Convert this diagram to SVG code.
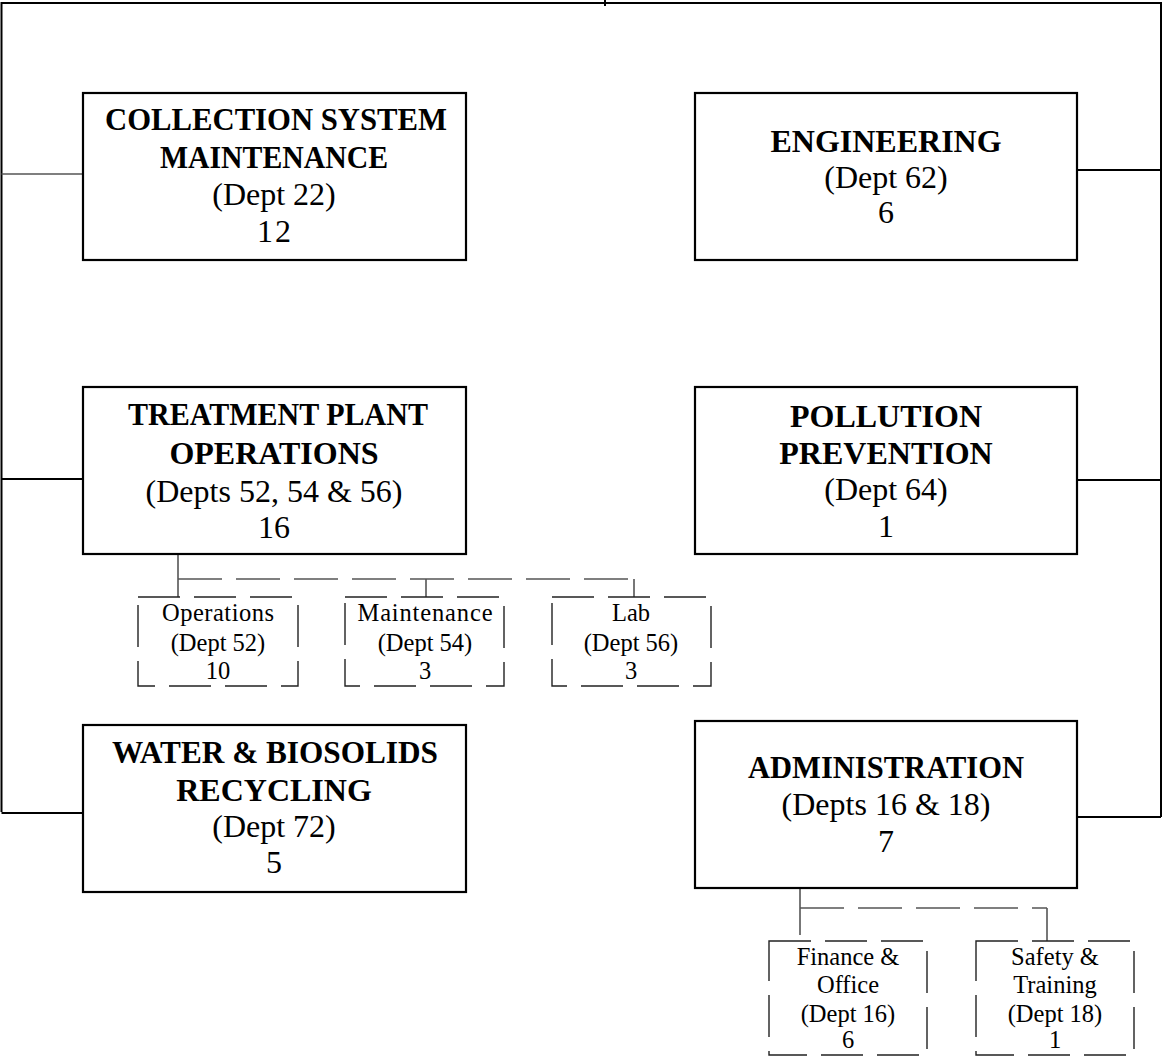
<svg xmlns="http://www.w3.org/2000/svg" width="1163" height="1057" viewBox="0 0 1163 1057">
<style>
.box{fill:#fff;stroke:#000;stroke-width:2.2}
.sub{fill:#fff;stroke:#222;stroke-width:1.4;stroke-dasharray:42 14}
.ln{fill:none;stroke:#000;stroke-width:2}
.thin{fill:none;stroke:#555;stroke-width:1.6}
.dash{fill:none;stroke:#555;stroke-width:1.6;stroke-dasharray:44 14}
text{font-family:'Liberation Serif','Times New Roman',Times,'DejaVu Serif',serif;text-anchor:middle;fill:#000}
.b{font-weight:bold;font-size:32px}
.r{font-size:32px}
.s{font-size:24.5px}
</style>
<g id="connectors">
<path class="ln" d="M1.5,812 V3 H1161 V817"/>
<path class="ln" d="M605,0 V6"/>
<path class="thin" d="M1.5,174 H83"/>
<path class="ln" d="M1.5,479 H83"/>
<path class="ln" d="M1.5,813 H83"/>
<path class="ln" d="M1161,170 H1077"/>
<path class="ln" d="M1161,480 H1077"/>
<path class="ln" d="M1161,817 H1077"/>
<path class="thin" d="M178,554 V597"/>
<path class="dash" d="M178,579 H639"/>
<path class="thin" d="M426,579 V597"/>
<path class="thin" d="M634,579 V597"/>
<path class="thin" d="M800,888 V935"/>
<path class="dash" d="M800,908 H1047"/>
<path class="thin" d="M1047,908 V941"/>
</g>
<g id="collection">
<rect class="box" x="83" y="93" width="383" height="167"/>
<text class="b" x="276" y="130" textLength="342" lengthAdjust="spacingAndGlyphs">COLLECTION SYSTEM</text>
<text class="b" x="274" y="168" textLength="228" lengthAdjust="spacingAndGlyphs">MAINTENANCE</text>
<text class="r" x="274" y="205">(Dept 22)</text>
<text class="r" x="275" y="242" letter-spacing="2">12</text>
</g>
<g id="engineering">
<rect class="box" x="695" y="93" width="382" height="167"/>
<text class="b" x="886" y="152">ENGINEERING</text>
<text class="r" x="886" y="188">(Dept 62)</text>
<text class="r" x="886" y="223">6</text>
</g>
<g id="treatment">
<rect class="box" x="83" y="387" width="383" height="167"/>
<text class="b" x="278" y="425" textLength="300" lengthAdjust="spacingAndGlyphs">TREATMENT PLANT</text>
<text class="b" x="274" y="464">OPERATIONS</text>
<text class="r" x="274" y="502">(Depts 52, 54 &amp; 56)</text>
<text class="r" x="274" y="538">16</text>
</g>
<g id="pollution">
<rect class="box" x="695" y="387" width="382" height="167"/>
<text class="b" x="886" y="427">POLLUTION</text>
<text class="b" x="886" y="464">PREVENTION</text>
<text class="r" x="886" y="500">(Dept 64)</text>
<text class="r" x="886" y="537">1</text>
</g>
<g id="operations">
<rect class="sub" x="138" y="597" width="160" height="89"/>
<text class="s" x="218" y="621" textLength="112">Operations</text>
<text class="s" x="218" y="651">(Dept 52)</text>
<text class="s" x="218" y="679">10</text>
</g>
<g id="maintenance">
<rect class="sub" x="345" y="597" width="159" height="89"/>
<text class="s" x="425" y="621" textLength="135">Maintenance</text>
<text class="s" x="425" y="651">(Dept 54)</text>
<text class="s" x="425" y="679">3</text>
</g>
<g id="lab">
<rect class="sub" x="552" y="597" width="159" height="89"/>
<text class="s" x="631" y="621">Lab</text>
<text class="s" x="631" y="651">(Dept 56)</text>
<text class="s" x="631" y="679">3</text>
</g>
<g id="water">
<rect class="box" x="83" y="725" width="383" height="167"/>
<text class="b" x="275" y="763" textLength="326" lengthAdjust="spacingAndGlyphs">WATER &amp; BIOSOLIDS</text>
<text class="b" x="274" y="801">RECYCLING</text>
<text class="r" x="274" y="837">(Dept 72)</text>
<text class="r" x="274" y="873">5</text>
</g>
<g id="administration">
<rect class="box" x="695" y="721" width="382" height="167"/>
<text class="b" x="886" y="778" textLength="276" lengthAdjust="spacingAndGlyphs">ADMINISTRATION</text>
<text class="r" x="886" y="815">(Depts 16 &amp; 18)</text>
<text class="r" x="886" y="852">7</text>
</g>
<g id="finance">
<rect class="sub" x="769" y="941" width="158" height="114"/>
<text class="s" x="848" y="965">Finance &amp;</text>
<text class="s" x="848" y="993">Office</text>
<text class="s" x="848" y="1022">(Dept 16)</text>
<text class="s" x="848" y="1048">6</text>
</g>
<g id="safety">
<rect class="sub" x="976" y="941" width="158" height="114"/>
<text class="s" x="1055" y="965">Safety &amp;</text>
<text class="s" x="1055" y="993">Training</text>
<text class="s" x="1055" y="1022">(Dept 18)</text>
<text class="s" x="1055" y="1048">1</text>
</g>
</svg>
